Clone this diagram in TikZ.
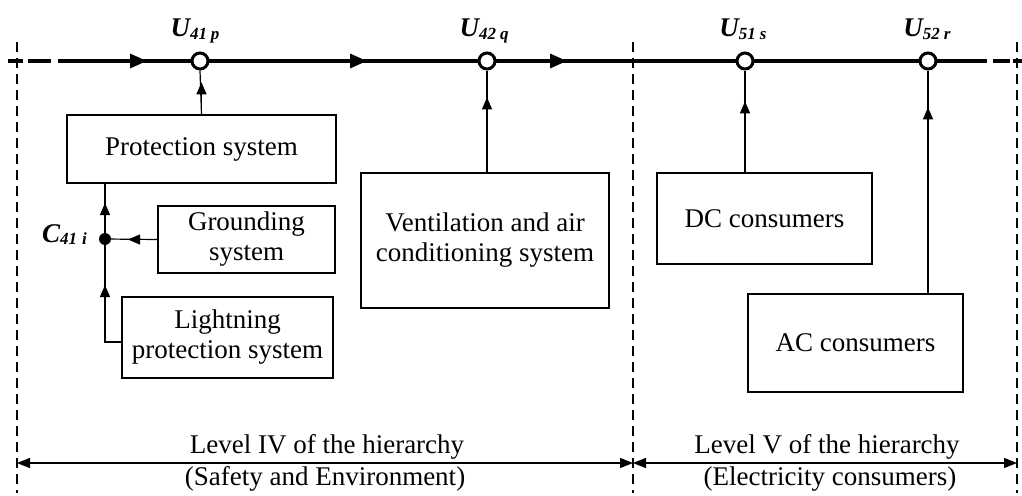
\documentclass[tikz,border=0pt]{standalone}
\usepackage{fontspec}
\setmainfont{Liberation Serif}
\usetikzlibrary{arrows.meta}
\newcommand{\sublbl}[2]{{\fontsize{27}{30}\selectfont\bfseries\itshape #1\raisebox{-2.5pt}{\fontsize{17}{18}\selectfont #2}}}
\begin{document}
\begin{tikzpicture}[x=1pt,y=-1pt,
  box/.style={draw,line width=1.3pt,inner sep=0pt,align=center,font=\fontsize{27}{30}\selectfont},
  conn/.style={line width=1.2pt},
  tip/.style={-{Triangle[length=12pt,width=10pt]}},
  bus/.style={line width=3.2pt},
  bustip/.style={-{Triangle[length=17pt,width=14pt]}},
  node circ/.style={circle,draw,line width=3pt,fill=white,minimum size=16pt,inner sep=0pt},
  lbl/.style={inner sep=0pt},
  sep/.style={line width=1.1pt,dash pattern=on 10pt off 6pt},
  lvl/.style={font=\fontsize{27}{31}\selectfont,inner sep=1pt},
  dimarrow/.style={line width=1.2pt,{Triangle[length=13pt,width=10pt]}-{Triangle[length=13pt,width=10pt]}}
]
\useasboundingbox (0,0) rectangle (1022,495);
% separators
\coordinate (s1t) at (17,42);  \coordinate (s1b) at (17,493);
\coordinate (s2t) at (633,42); \coordinate (s2b) at (633,493);
\coordinate (s3t) at (1017,42);\coordinate (s3b) at (1017,493);
\draw[sep] (s1t) -- (s1b);
\draw[sep] (s2t) -- (s2b);
\draw[sep] (s3t) -- (s3b);
% bus
\coordinate (b0) at (8,61); \coordinate (b1) at (58,61);
\coordinate (b2) at (987,61); \coordinate (b2d) at (993,61); \coordinate (b3) at (1022,61);
\draw[bus,dash pattern=on 15pt off 5pt on 23pt off 7pt] (b0) -- (b1);
\draw[bus] (b1) -- (b2);
\draw[bus,dash pattern=on 17pt off 3pt on 15pt] (b2d) -- (b3);
\draw[bus,bustip] (b1) -- (147,61);
\draw[bus,bustip] (b1) -- (367,61);
\draw[bus,bustip] (b1) -- (567,61);
\node[node circ] (u41) at (200,61) {};
\node[node circ] (u42) at (487,61) {};
\node[node circ] (u51) at (745,61) {};
\node[node circ] (u52) at (928,61) {};
\node[lbl,anchor=base] (l41) at (195,37) {\sublbl{U}{41\hspace{4pt}p}};
\node[lbl,anchor=base] (l42) at (484,37) {\sublbl{U}{42\hspace{4pt}q}};
\node[lbl,anchor=base] (l51) at (743,37) {\sublbl{U}{51\hspace{4pt}s}};
\node[lbl,anchor=base] (l52) at (927,37) {\sublbl{U}{52\hspace{4pt}r}};
% boxes
\node[box,minimum width=269pt,minimum height=68pt] (prot) at (201.5,149) {Protection system};
\node[box,minimum width=177pt,minimum height=67pt] (ground) at (246.5,239.5) {Grounding\\system};
\node[box,minimum width=211pt,minimum height=81pt] (light) at (227.5,337.5) {Lightning\\protection system};
\node[box,minimum width=248pt,minimum height=135pt] (vent) at (485,240.5) {Ventilation and air\\conditioning system};
\node[box,minimum width=215pt,minimum height=91pt] (dc) at (764.5,218.5) {DC consumers};
\node[box,minimum width=215pt,minimum height=98pt] (ac) at (855.5,343) {AC consumers};
% junction
\node[circle,fill,minimum size=12pt,inner sep=0pt] (c41) at (105,239) {};
\node[lbl,anchor=base east] (lc) at (87,242) {\sublbl{C}{41\hspace{5pt}i}};
% connectors
\coordinate (pt) at (prot.north);
\draw[conn] (pt) -- (u41.south);
\draw[conn,tip] (pt) -- ++(0,-32);
\coordinate (vt) at (u42 |- vent.north);
\draw[conn] (vt) -- (u42.south);
\draw[conn,tip] (vt) -- ++(0,-75);
\coordinate (dt) at (u51 |- dc.north);
\draw[conn] (dt) -- (u51.south);
\draw[conn,tip] (dt) -- ++(0,-71);
\coordinate (at) at (u52 |- ac.north);
\draw[conn] (at) -- (u52.south);
\draw[conn,tip] (at) -- ++(0,-186);
\coordinate (pb) at (c41 |- prot.south);
\draw[conn] (c41) -- (pb);
\draw[conn,tip] (c41) -- (105,203);
\draw[conn] (ground.west) -- (c41);
\draw[conn,tip] (ground.west) -- (128,239.5);
\coordinate (lw) at ([yshift=-4.5pt]light.west);
\coordinate (lk) at (c41 |- lw);
\draw[conn] (lw) -- (lk) -- (c41);
\draw[conn,tip] (lk) -- (105,285);
% levels
\draw[dimarrow] (17,463) -- (633,463);
\draw[dimarrow] (633,463) -- (1017,463);
\node[lvl,fill=white] (lv4) at (327,447) {Level IV of the hierarchy};
\node[lvl] (lv4b) at (325,479) {(Safety and Environment)};
\node[lvl,fill=white] (lv5) at (827,447) {Level V of the hierarchy};
\node[lvl] (lv5b) at (830,479) {(Electricity consumers)};
\end{tikzpicture}
\end{document}
